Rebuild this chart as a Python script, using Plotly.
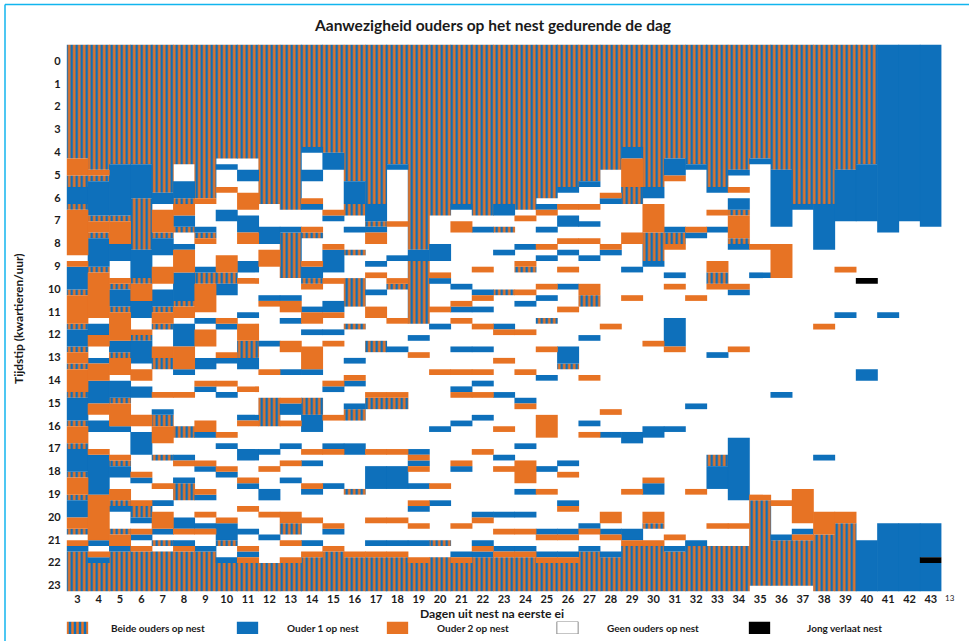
import plotly.graph_objects as go

DAYS = list(range(3, 44))
HOURS = list(range(24))
TITLE = "Aanwezigheid ouders op het nest gedurende de dag"
XTITLE = "Dagen uit nest na eerste ei"
YTITLE = "Tijdstip (kwartieren/uur)"

# One entry per day: state letter + first quarter-hour of that run
# B beide, A ouder 1, C ouder 2, W geen, J jong verlaat nest
DAY_RUNS = [
"B0 C20 B23 A25 B28 C29 W37 C38 A39 B43 C44 B49 A50 B53 C54 B56 C57 B61 A62 B66 C67 B70 A71 B75 C76 B79 A80 C83 B85 W86 C87 A88 B89",
"B0 C22 B23 A24 B30 C31 B33 A34 B39 C40 W48 A49 C51 W53 A55 C56 A59 C63 W65 A66 W68 C71 A72 C79 A87 W88 C89 A90 B91",
"B0 A21 B30 C31 A35 W38 C41 B42 A43 B46 C47 A52 B54 C55 W58 A59 B62 C63 A67 W68 C72 B73 A74 W76 C78 B80 A81 W82 B85 C86 A88 B89",
"B0 A21 B27 A36 B41 C42 A45 W48 C50 B51 A52 W56 C57 W59 A60 W62 C65 W67 A68 W72 C75 A76 W77 C80 B81 A83 W84 C85 A86 W87 C88 B89",
"B0 A26 W28 C29 B33 A34 W37 C39 W42 A43 B46 C47 B49 W50 C53 B55 W57 C61 W62 A64 B65 C67 W70 B72 W73 C77 W78 A80 W81 C82 A85 W86 B87 W88 B89",
"B0 W21 A24 B27 C28 A30 B32 W33 A35 C36 A40 B45 C46 W48 A49 C53 A57 W58 C61 W62 B67 W69 A72 C73 W74 A76 B77 W80 A83 C85 W86 A87 C88 B89",
"B0 C27 W28 A32 B33 C34 W35 A39 B40 C42 W47 A48 W49 C50 W53 A55 W57 C59 A60 W61 C66 A68 W69 C73 A74 W75 C78 A79 W80 C82 W83 A84 C85 W86 A88 B89",
"B0 W20 A21 W22 C25 W26 A29 W31 C37 B40 A42 W44 C48 A49 W50 C54 A55 W56 C59 W60 A61 W62 C68 W69 A70 W71 C74 A75 W76 C83 A84 B87 W88 A90 B91",
"B0 W20 A22 W24 C26 W29 A30 C33 W35 A38 W40 C41 W42 A47 W48 C49 B52 A55 W57 C60 W61 A65 C66 W67 A71 W73 C76 A77 W78 C81 W82 A85 W86 C88 A89 C90 B91",
"B0 W28 A32 W35 C36 W39 A44 C45 W46 A52 W53 C57 W58 B62 W67 A71 W72 C74 W75 A78 W80 C82 W83 A86 W87 B91",
"B0 W29 A32 B33 W41 A44 C45 W47 A48 W49 C52 W54 A57 W58 C62 A63 W65 C66 W67 A70 W71 C73 W74 A76 W77 C82 B84 W86 C87 W88 C90 B91",
"B0 A18 W19 A22 W24 C27 A28 W29 C32 B33 W34 C38 A39 B41 C42 W43 A46 C47 W49 A50 W51 C53 A57 W58 B62 A65 W68 C71 W72 A73 W74 C77 A78 W79 C83 W84 A87 W88 C89 B90",
"B0 A19 W22 C29 A30 W31 C35 A36 W40 C41 W42 A45 C47 W48 A50 W51 C52 W53 C59 A60 W61 C65 W66 A70 C71 W72 A77 W78 C84 A85 W86 C88 B89",
"B0 A24 B28 W30 A32 W33 B36 W37 B41 W46 B49 W50 A55 W56 C58 A59 W60 A63 B64 W66 A70 W72 B78 W79 C89 B90",
"B0 A28 B31 A32 C33 W35 A38 W39 C40 W41 A43 W44 C46 W48 B52 W54 C61 B62 W64 C71 W72 A74 W78 C83 W84 A87 W88 C89 B90",
"B0 A21 W22 C31 W32 A37 W38 C41 B42 W43 C48 W49 A53 W54 C61 B62 W64 C71 W72 A74 W78 C83 W84 A87 W88 C89 B90",
"B0 A36 B38 W49 A51 W52 C54 W55 A71 C72 A73 C74 W75 A77 W78 C80 A81 W82 C84 W85 A87 W88 C90 B91",
"B0 W30 A35 W38 C40 A41 W42 C46 W47 A49 W50 C57 W58 A67 W68 C77 W78 A80 W81 B87 W88 B90",
"B0 A28 W29 C31 W33 A42 W43 C45 A46 W47 C48 W49 A53 W54 C57 W58 A60 C61 W62 A66 W67 C73 A74 W75 C84 W85 A89 C90 B91",
"B0 W30 A32 W33 C39 W40 A43 C44 W45 A46 W47 C49 W50 A53 W54 C57 W58 A59 W60 C61 W62 A65 W66 C71 W72 A82 C83 W84 A87 C88 A89 B90",
"B0 A28 W30 B32 W33 A36 W37 B43 W44 A49 C50 W51 C55 W56 A61 W62 C67 W68 A72 W73 C74 W75 A82 W83 C85 W86 A88 C89 B90",
"B0 W29 C30 W31 A35 W36 C38 B39 W40 C43 W44 A45 W46 C50 W51 C57 W58 A62 C63 W64 A70 W71 C73 W77 A78 W79 A82 W83 C85 W86 A88 C89 B90",
"B0 W27 A28 C29 W30 A32 W33 C35 W36 A37 W38 C42 W43 A44 W45 B48 W49 C53 W54 A58 W59 C65 W69 A74 W75 C78 W79 A85 C86 W87 A89 C90 B91",
"B0 A25 W26 C28 W29 A30 W32 C34 W35 A36 W37 C39 W40 A42 W43 C46 W47 A53 B56 W57 A73 W74 C75 W76 A80 C81 W82 A85 C86 W87 A89 C90 B91",
"B0 A24 W25 C28 W29 A31 W32 C34 W35 A37 W38 C42 B44 W46 A51 W52 C58 W59 A66 W67 C68 W69 A84 C85 W86 A88 B89",
"B0 W22 C26 A27 W28 C35 A36 W37 C49 W50 C64 W65 A68 W69 C82 W84 A85 C86 W87 A89 B90",
"B0 A18 C20 B25 W28 C33 W35 A39 W40 C44 W45 A68 W70 C78 W79 A85 C87 B88",
"B0 A25 W27 C28 B33 A38 W39 C52 W53 A67 W69 C76 A77 W79 C82 B84 W85 C87 B88",
"B0 A20 C23 W24 A32 B33 C35 W36 A40 W41 C42 W43 A48 C53 W54 A67 W68 C86 W87 A88 B89",
"B0 A21 W22 C32 A33 W34 C44 W45 A63 W64 C78 W79 A87 B88",
"B0 A25 W26 C29 W30 A32 W33 C38 B40 C42 W43 A54 W55 B72 A74 W78 C84 W85 B88",
"B0 A22 W23 C25 W26 A27 B29 C30 B34 A35 W36 C42 A43 W44 C53 W54 A69 W80 C84 W85 B88",
"B0 A20 W21 C35 W36 A40 W41 C79 B80 W95",
"B0 A22 W32 C35 W41 A61 W62 C80 W81 A86 B87 W95",
"B0 A28 W29 C78 W84 A85 C86 B87 W95",
"B0 A28 W36 C49 W50 A72 W73 C82 B86",
"B0 A22 W31 C39 W40 A47 W48 C82 B84",
"B0 A21 W31 J41 W42 A57 W59 A87",
"A0 W33 A47 W48 A84",
"A0 W31 A84",
"A0 W32 A84 J90 A91",
]

STATES = ["B", "A", "C", "W", "J"]
LABELS = ["Beide ouders op nest", "Ouder 1 op nest", "Ouder 2 op nest", "Geen ouders op nest", "Jong verlaat nest"]

W, H = 969, 641
BLUE, ORANGE = "#0E70BB", "#E77324"
FILL = {"B": BLUE, "A": BLUE, "C": ORANGE, "W": "#FFFFFF", "J": "#000000"}
STRIPE = dict(shape="|", size=5, solidity=0.5, fgcolor=ORANGE, bgcolor=BLUE, fillmode="replace")
FONT = "Lato"
TXT = "#1a1a1a"

def marker(state):
    m = dict(color=FILL[state], line=dict(width=0.02, color=FILL[state]))
    if state == "B":
        m["pattern"] = STRIPE
    return m

runs = {s: ([], [], []) for s in STATES}
for day, text in zip(DAYS, DAY_RUNS):
    tokens = [(t[0], int(t[1:])) for t in text.split()]
    ends = [t[1] for t in tokens[1:]] + [96]
    for (state, start), end in zip(tokens, ends):
        xs, bases, lens = runs[state]
        xs.append(day); bases.append(start); lens.append(end - start)

fig = go.Figure()
for s, label in zip(STATES, LABELS):
    if s == "W":
        continue
    xs, bases, lens = runs[s]
    fig.add_trace(go.Bar(x=xs, y=lens, base=bases, width=1.03, name=label, marker=marker(s),
                         showlegend=False, hoverinfo="skip"))

# Legend keys drawn on a helper axis measured in page pixels
KEY_X = [77.5, 247.5, 397.5, 567.5, 759.5]
LABEL_X = [109, 285, 435, 605, 805]
for s, kx in zip(STATES, KEY_X):
    m = marker(s)
    if s == "W":
        m["line"] = dict(width=1, color="#8a8a8a")
    fig.add_trace(go.Bar(x=[kx], y=[1], width=21.3, marker=m, xaxis="x2", yaxis="y2",
                         showlegend=False, hoverinfo="skip"))

annos = []
for label, lx in zip(LABELS, LABEL_X):
    annos.append(dict(text=f"<b>{label}</b>", x=lx / W, y=1 - 627.5 / H, xref="paper", yref="paper",
                      xanchor="left", yanchor="middle", showarrow=False,
                      font=dict(family=FONT, size=10, color=TXT)))
annos += [
    dict(text=f"<b>{TITLE}</b>", x=492 / W, y=1 - 25 / H, xref="paper", yref="paper", xanchor="center",
         yanchor="middle", showarrow=False, font=dict(family=FONT, size=15.5, color=TXT)),
    dict(text=f"<b>{XTITLE}</b>", x=492 / W, y=1 - 613 / H, xref="paper", yref="paper", xanchor="center",
         yanchor="middle", showarrow=False, font=dict(family=FONT, size=12.2, color=TXT)),
    dict(text=f"<b>{YTITLE}</b>", x=18 / W, y=1 - 319 / H, xref="paper", yref="paper", xanchor="center",
         yanchor="middle", showarrow=False, textangle=-90, font=dict(family=FONT, size=12, color=TXT)),
    dict(text="13", x=950 / W, y=1 - 598 / H, xref="paper", yref="paper", xanchor="center",
         yanchor="middle", showarrow=False, font=dict(family=FONT, size=8, color=TXT)),
]

BORDER = dict(color="#12B5EE", width=1.5)
fig.update_layout(
    width=W, height=H, margin=dict(l=0, r=0, t=0, b=0), autosize=False,
    paper_bgcolor="white", plot_bgcolor="white", barmode="overlay", showlegend=False,
    annotations=annos,
    shapes=[
        dict(type="line", xref="paper", yref="paper", x0=5 / W, x1=1, y0=1 - 4.5 / H, y1=1 - 4.5 / H, line=BORDER, layer="below"),
        dict(type="line", xref="paper", yref="paper", x0=5 / W, x1=5 / W, y0=0, y1=1 - 4.5 / H, line=BORDER, layer="below"),
    ],
    xaxis=dict(domain=[66.7 / W, 941.5 / W], range=[2.5, 43.5], tickvals=DAYS, ticktext=[f"<b>{d}</b>" for d in DAYS],
               showgrid=False, zeroline=False, showline=False, ticks="", ticklabelstandoff=-1,
               tickfont=dict(family=FONT, size=11, color=TXT), anchor="y"),
    yaxis=dict(domain=[1 - 591.5 / H, 1 - 44.5 / H], range=[96, 0], tickvals=[2.9 + 4 * h for h in HOURS],
               ticktext=[f"<b>{h}</b>" for h in HOURS], showgrid=False, zeroline=False, showline=False, ticks="",
               ticklabelstandoff=5, tickfont=dict(family=FONT, size=11, color=TXT), anchor="x"),
    xaxis2=dict(domain=[0, 1], range=[0, W], visible=False, anchor="y2"),
    yaxis2=dict(domain=[1 - 634 / H, 1 - 621.5 / H], range=[0, 1], visible=False, anchor="x2"),
)

fig.write_html("out.html", config=dict(displayModeBar=False),
               post_script="document.body.style.margin='0';document.body.style.overflow='hidden';")
